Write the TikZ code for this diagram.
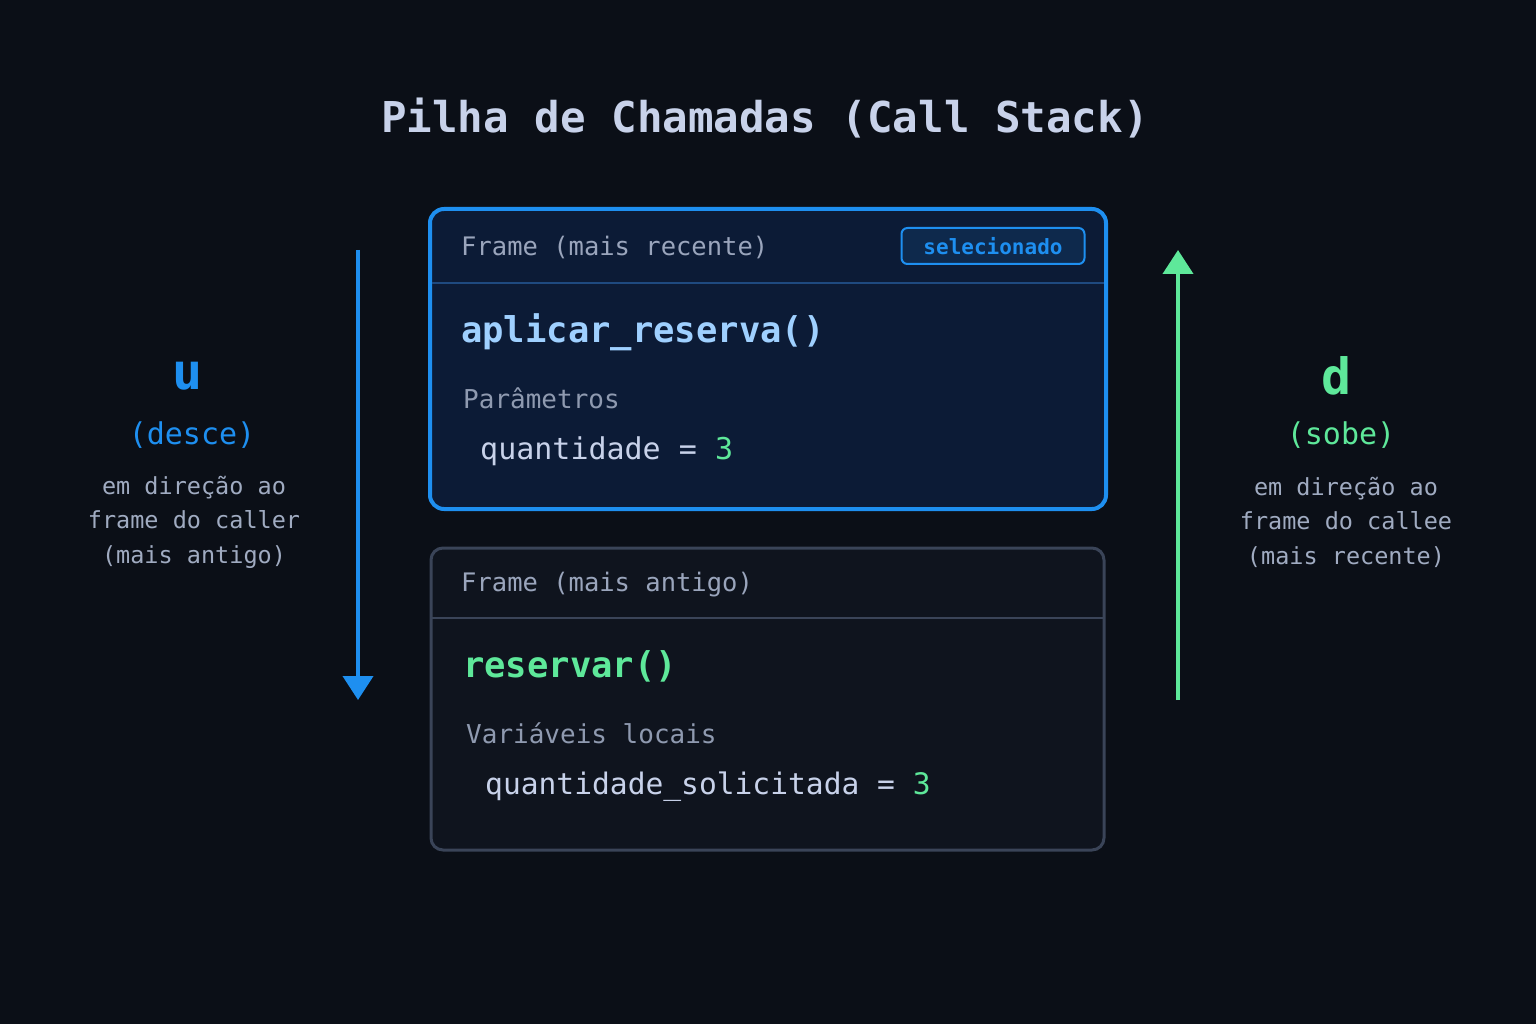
\documentclass[tikz,border=0pt]{standalone}
\usepackage{fontspec}
\setmainfont{DejaVu Sans Mono}
\usetikzlibrary{arrows.meta}
\definecolor{bg}{HTML}{0B0F17}
\definecolor{blu}{HTML}{1E8FF0}
\definecolor{grn}{HTML}{5EE89A}
\definecolor{lt}{HTML}{C8D2EA}
\definecolor{gr}{HTML}{8F9AB0}
\definecolor{topfill}{HTML}{0C1B36}
\definecolor{botfill}{HTML}{0F141E}
\definecolor{botline}{HTML}{3A4458}
\definecolor{sepblue}{HTML}{1F4A80}
\definecolor{fn}{HTML}{9FD0FF}
\begin{document}
\begin{tikzpicture}[x=1pt,y=-1pt,
 t/.style={anchor=base west,inner sep=0pt},
 c/.style={anchor=center,inner sep=0pt,align=center},
 fs/.style={font=\fontsize{#1}{#1}\selectfont},
 fsb/.style={font=\fontsize{#1}{#1}\selectfont\bfseries}]
\useasboundingbox[fill=bg] (0,0) rectangle (1536,1024);
\node[c,fsb=42.5,text=lt] (title) at (765,118) {Pilha de Chamadas (Call Stack)};
% top frame
\draw[blu,line width=4,fill=topfill,rounded corners=14] (430,209) rectangle (1106,509);
\draw[sepblue,line width=2] (432,283) -- (1104,283);
\node[t,fs=25.5,text=gr!80!lt] (f1) at (461,256) {Frame (mais recente)};
\node[draw=blu,line width=2,rounded corners=6,fill=blu!12!topfill,text=blu,fsb=21,minimum width=183,minimum height=36,inner sep=0pt] (sel) at (993,246) {selecionado};
\node[t,fsb=35.5,text=fn] (ap) at (461,342) {aplicar\_reserva()};
\node[t,fs=26,text=gr] (par) at (463,408) {Parâmetros};
\node[t,fs=30,text=lt] (q1) at (480,459) {quantidade = \textcolor{grn}{3}};
% bottom frame
\draw[botline,line width=3,fill=botfill,rounded corners=12] (431,548) rectangle (1104,850);
\draw[botline,line width=2.5] (432,618) -- (1103,618);
\node[t,fs=25.5,text=gr!80!lt] (f2) at (461,591) {Frame (mais antigo)};
\node[t,fsb=35.5,text=grn] (rs) at (463,677) {reservar()};
\node[t,fs=26,text=gr] (var) at (466,743) {Variáveis locais};
\node[t,fs=29.6,text=lt] (q2) at (485,794) {quantidade\_solicitada = \textcolor{grn}{3}};
% arrows
\coordinate (a1) at (358,250); \coordinate (a2) at (358,700);
\draw[blu,line width=4,-{Triangle[length=24,width=30]}] (a1) -- (a2);
\coordinate (b1) at (1178,700); \coordinate (b2) at (1178,250);
\draw[grn,line width=4,-{Triangle[length=24,width=30]}] (b1) -- (b2);
% left labels
\node[c,fsb=50,text=blu] (u) at (188,376) {u};
\node[c,fs=30,text=blu] (de) at (192,435) {(desce)};
\node[c,fs=23.5,text=gr!70!lt,align=center] (lt1) at (194,522) {em direção ao\\[11pt]frame do caller\\[11pt](mais antigo)};
% right labels
\node[c,fsb=50,text=grn] (d) at (1337,376) {d};
\node[c,fs=30,text=grn] (so) at (1341,435) {(sobe)};
\node[c,fs=23.5,text=gr!70!lt,align=center] (rt1) at (1346,522) {em direção ao\\[11pt]frame do callee\\[11pt](mais recente)};
\end{tikzpicture}
\end{document}
